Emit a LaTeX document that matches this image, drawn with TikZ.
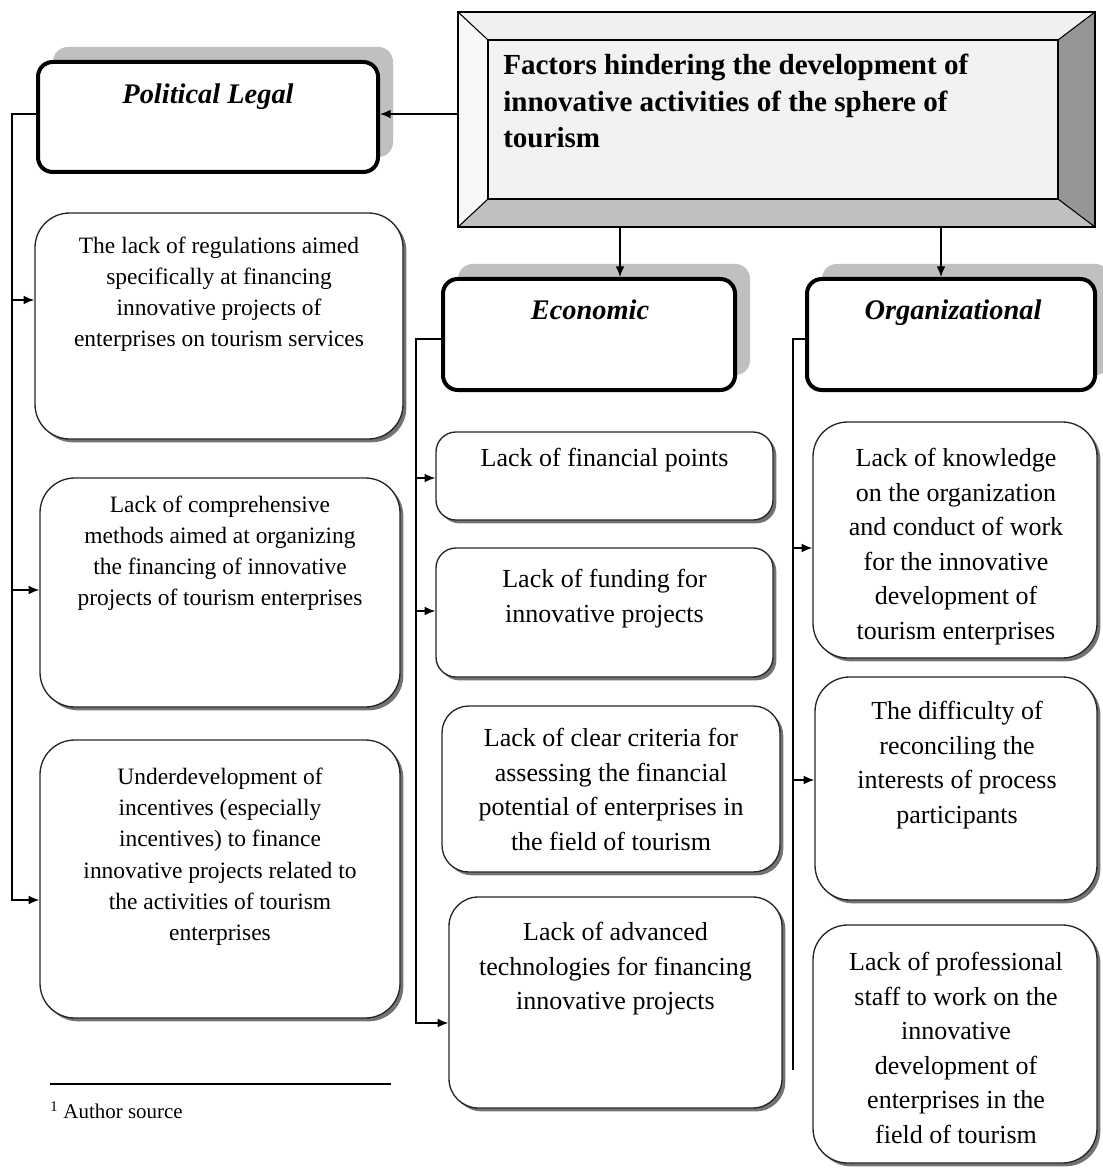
\documentclass[tikz,border=0pt]{standalone}
\usepackage{fontspec}
\setmainfont{Liberation Serif}
\usetikzlibrary{arrows.meta,fit,shadows,calc}
\definecolor{hshadow}{RGB}{192,192,192}
\definecolor{bevtop}{RGB}{240,240,240}
\definecolor{bevleft}{RGB}{248,248,248}
\definecolor{bevright}{RGB}{150,150,150}
\definecolor{bevbottom}{RGB}{192,192,192}
\definecolor{bevface}{RGB}{242,242,242}
\begin{document}
\begin{tikzpicture}[x=0.75pt,y=-0.75pt,
  conn/.style={line width=1pt, draw=black},
  arr/.style={conn, -{Latex[length=8pt,width=6.5pt]}},
  hbox/.style={draw, line width=3pt, rounded corners=11pt, fill=white, inner sep=0pt,
    drop shadow={shadow xshift=11.25pt, shadow yshift=11.25pt, fill=hshadow, opacity=1}},
  cbox/.style={draw=black!85, line width=1pt, fill=white, inner sep=0pt,
    drop shadow={shadow xshift=2.5pt, shadow yshift=-2.5pt, fill=black!55, opacity=1}},
  ltext/.style={align=center, inner sep=0pt, anchor=north, font=\fontsize{17.6pt}{23.3pt}\selectfont},
  rtext/.style={align=center, inner sep=0pt, anchor=north, font=\fontsize{19.5pt}{25.9pt}\selectfont},
  htext/.style={inner sep=0pt, anchor=base, font=\bfseries\itshape\fontsize{21.3pt}{25pt}\selectfont},
]
\useasboundingbox (0,0) rectangle (1102,1169);

% ---------- top bevel box ----------
\coordinate (o1) at (458,12);  \coordinate (o2) at (1095,12);
\coordinate (o3) at (1095,227); \coordinate (o4) at (458,227);
\coordinate (i1) at (488,40);  \coordinate (i2) at (1058,40);
\coordinate (i3) at (1058,199); \coordinate (i4) at (488,199);
\fill[bevtop] (o1)--(o2)--(i2)--(i1)--cycle;
\fill[bevright] (o2)--(o3)--(i3)--(i2)--cycle;
\fill[bevbottom] (o3)--(o4)--(i4)--(i3)--cycle;
\fill[bevleft] (o4)--(o1)--(i1)--(i4)--cycle;
\fill[bevface] (i1) rectangle (i3);
\draw[line width=0.8pt] (o1)--(i1) (o2)--(i2) (o3)--(i3) (o4)--(i4);
\draw[line width=1pt] (i1) rectangle (i3);
\node[fit=(o1)(o3), inner sep=0pt, draw, line width=1.2pt] (T) {};
\node[anchor=north west, align=left, inner sep=0pt,
  font=\bfseries\fontsize{21.8pt}{27.4pt}\selectfont] (Tt) at (503,54)
  {Factors hindering the development of\\innovative activities of the sphere of\\tourism};

% ---------- header boxes ----------
\node[hbox, fit={(38,62)(378,172)}] (PL) {};
\node[htext] (PLt) at (208,104) {Political Legal};
\node[hbox, fit={(443,279)(735,390)}] (EC) {};
\node[htext] (ECt) at (590,320) {Economic};
\node[hbox, fit={(807,279)(1095,390)}] (OR) {};
\node[htext] (ORt) at (953,320) {Organizational};

% ---------- left column ----------
\node[cbox, rounded corners=26pt, fit={(35,213)(403,439)}] (L1) {};
\node[ltext] (L1t) at (219,237) {The lack of regulations aimed\\specifically at financing\\innovative projects of\\enterprises on tourism services};
\node[cbox, rounded corners=26pt, fit={(40,478)(400,707)}] (L2) {};
\node[ltext] (L2t) at (220,496) {Lack of comprehensive\\methods aimed at organizing\\the financing of innovative\\projects of tourism enterprises};
\node[cbox, rounded corners=26pt, fit={(40,740)(400,1018)}] (L3) {};
\node[ltext] (L3t) at (220,768) {Underdevelopment of\\incentives (especially\\incentives) to finance\\innovative projects related to\\the activities of tourism\\enterprises};

% ---------- middle column ----------
\node[cbox, rounded corners=15pt, fit={(436,432)(773,520)}] (E1) {};
\node[rtext] (E1t) at (604.5,448) {Lack of financial points};
\node[cbox, rounded corners=15pt, fit={(436,548)(773,677)}] (E2) {};
\node[rtext] (E2t) at (604.5,569) {Lack of funding for\\innovative projects};
\node[cbox, rounded corners=20pt, fit={(442,706)(780,872)}] (E3) {};
\node[rtext] (E3t) at (611,728) {Lack of clear criteria for\\assessing the financial\\potential of enterprises in\\the field of tourism};
\node[cbox, rounded corners=22pt, fit={(449,897)(782,1108)}] (E4) {};
\node[rtext] (E4t) at (615.5,922) {Lack of advanced\\technologies for financing\\innovative projects};

% ---------- right column ----------
\node[cbox, rounded corners=26pt, fit={(813,422)(1097,658)}] (O1) {};
\node[rtext] (O1t) at (956,448) {Lack of knowledge\\on the organization\\and conduct of work\\for the innovative\\development of\\tourism enterprises};
\node[cbox, rounded corners=26pt, fit={(815,677)(1097,900)}] (O2) {};
\node[rtext] (O2t) at (957,701) {The difficulty of\\reconciling the\\interests of process\\participants};
\node[cbox, rounded corners=26pt, fit={(813,925)(1097,1163)}] (O3) {};
\node[rtext] (O3t) at (956,952) {Lack of professional\\staff to work on the\\innovative\\development of\\enterprises in the\\field of tourism};

% ---------- connector helper coordinates ----------
\coordinate (a1) at (0,114);
\coordinate (a2) at (0,339);
\coordinate (a3) at (0,339);
\coordinate (xE) at (620,0);
\coordinate (xO) at (941,0);
\coordinate (pTrunk) at (12,0);
\coordinate (eTrunk) at (416,0);
\coordinate (oTrunk) at (793,0);
\coordinate (yL1) at (0,300);
\coordinate (yL2) at (0,590);
\coordinate (yL3) at (0,900);
\coordinate (yE1) at (0,478);
\coordinate (yE2) at (0,611);
\coordinate (yE4) at (0,1023);
\coordinate (yO1) at (0,548);
\coordinate (yO2) at (0,780);
\coordinate (oEnd) at (0,1070);

% ---------- connectors ----------
\draw[arr] (T.west |- a1) -- (PL.east |- a1);
\draw[arr] (T.south -| xE) -- (EC.north -| xE);
\draw[arr] (T.south -| xO) -- (OR.north -| xO);

\draw[arr] (PL.west |- a1) -| (pTrunk |- yL3) -- (L3.west |- yL3);
\draw[arr] (pTrunk |- yL1) -- (L1.west |- yL1);
\draw[arr] (pTrunk |- yL2) -- (L2.west |- yL2);

\draw[arr] (EC.west |- a2) -| (eTrunk |- yE4) -- (E4.west |- yE4);
\draw[arr] (eTrunk |- yE1) -- (E1.west |- yE1);
\draw[arr] (eTrunk |- yE2) -- (E2.west |- yE2);

\draw[conn] (OR.west |- a3) -| (oTrunk |- oEnd);
\draw[arr] (oTrunk |- yO1) -- (O1.west |- yO1);
\draw[arr] (oTrunk |- yO2) -- (O2.west |- yO2);

% ---------- footnote ----------
\coordinate (f1) at (50,1084);
\coordinate (f2) at (391,1084);
\draw[line width=1.2pt] (f1) -- (f2);
\node[anchor=base west, inner sep=0pt, font=\fontsize{15.7pt}{18pt}\selectfont] (fn) at (50,1118) {\textsuperscript{1} Author source};
\end{tikzpicture}
\end{document}
